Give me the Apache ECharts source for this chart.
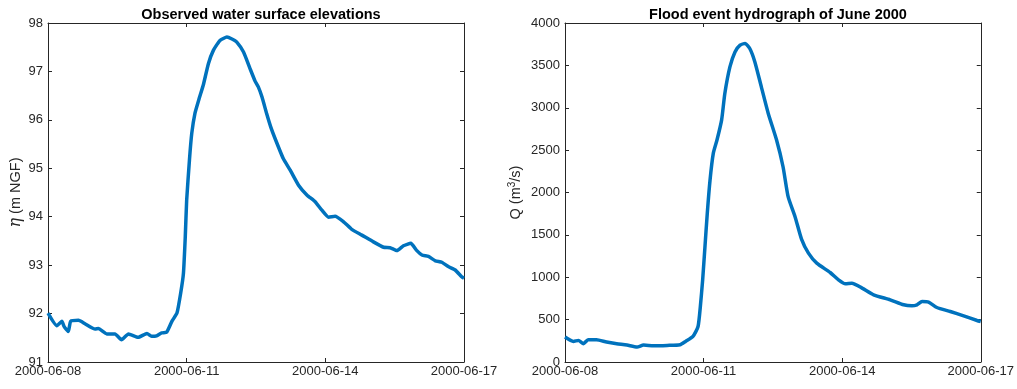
<!DOCTYPE html>
<html>
<head>
<meta charset="utf-8">
<script src="https://cdn.jsdelivr.net/npm/echarts@6/dist/echarts.min.js"></script>
<style>
  html, body { margin: 0; padding: 0; background: #fff; }
  #chart { width: 1017px; height: 389px; }
</style>
</head>
<body>
<div id="chart"></div>
<script>
// start date of both x axes, x values are days after it
var startDate = Date.UTC(2000, 5, 8);

// observed water surface elevation (m NGF)
var etaDays = [0, 0.19, 0.30, 0.35, 0.44, 0.49, 0.66, 0.80, 1.02, 1.09, 1.27, 1.45, 1.59, 1.74, 1.95, 2.14, 2.24, 2.35, 2.46, 2.57,
    2.68, 2.79, 2.87, 2.93, 2.97, 3.00, 3.06, 3.11, 3.18, 3.27, 3.36, 3.47, 3.58, 3.72, 3.87, 3.98, 4.08, 4.23, 4.37, 4.48,
    4.55, 4.63, 4.73, 4.82, 4.91, 5.09, 5.24, 5.42, 5.60, 5.78, 5.92, 6.07, 6.21, 6.39, 6.57, 6.79, 7.04, 7.26, 7.40, 7.55,
    7.69, 7.85, 7.98, 8.09, 8.23, 8.38, 8.52, 8.66, 8.81, 8.95, 9.00];
var etaValues = [92.01, 91.75, 91.84, 91.73, 91.63, 91.84, 91.86, 91.79, 91.68, 91.69, 91.58, 91.58, 91.46, 91.58, 91.51, 91.59, 91.53, 91.54, 91.60, 91.62,
    91.84, 92.01, 92.42, 92.83, 93.59, 94.34, 95.17, 95.72, 96.14, 96.44, 96.72, 97.16, 97.44, 97.64, 97.71, 97.67, 97.61, 97.40, 97.06, 96.80,
    96.68, 96.47, 96.13, 95.85, 95.62, 95.20, 94.96, 94.65, 94.45, 94.31, 94.14, 93.99, 94.01, 93.90, 93.74, 93.62, 93.48, 93.37, 93.36, 93.30,
    93.40, 93.45, 93.30, 93.21, 93.18, 93.09, 93.06, 92.97, 92.90, 92.76, 92.73];

// flood hydrograph (m3/s)
var flowDays = [0, 0.18, 0.29, 0.40, 0.50, 0.68, 0.90, 1.12, 1.34, 1.56, 1.70, 1.92, 2.21, 2.49, 2.61, 2.77, 2.88, 2.93, 2.98, 3.03,
    3.08, 3.14, 3.21, 3.29, 3.39, 3.46, 3.57, 3.68, 3.79, 3.90, 4.00, 4.11, 4.25, 4.40, 4.58, 4.72, 4.83, 4.98, 5.12, 5.27,
    5.45, 5.74, 5.92, 6.07, 6.21, 6.43, 6.68, 7.04, 7.33, 7.51, 7.62, 7.73, 7.87, 8.05, 8.34, 8.63, 8.92, 9.00];
var flowValues = [294, 243, 255, 216, 263, 263, 236, 216, 200, 177, 200, 192, 196, 204, 243, 302, 419, 655, 970, 1362,
    1755, 2148, 2462, 2619, 2854, 3169, 3482, 3659, 3738, 3758, 3699, 3541, 3247, 2933, 2619, 2304, 1951, 1715, 1450, 1284,
    1166, 1056, 970, 922, 930, 872, 793, 734, 675, 663, 675, 714, 707, 643, 596, 545, 490, 478];

var titles = ['Observed water surface elevations', 'Flood event hydrograph of June 2000'];

var fontName = '"Liberation Sans", Arial, Helvetica, sans-serif';
var axisColor = '#262626';
var lineColor = '#0072bd';

function pairs(xs, ys) {
    var out = [];
    for (var i = 0; i < xs.length; i++) {
        out.push([xs[i], ys[i]]);
    }
    return out;
}

//日期标签
function dayLabel(v) {
    var d = new Date(startDate + v * 86400000);
    var m = d.getUTCMonth() + 1, dd = d.getUTCDate();
    return d.getUTCFullYear() + '-' + (m < 10 ? '0' + m : m) + '-' + (dd < 10 ? '0' + dd : dd);
}

function xAx(gridIndex, pos) {
    return {
        type: 'value', gridIndex: gridIndex, position: pos,
        min: 0, max: 9, interval: 3,
        axisLine: { show: true, onZero: false, lineStyle: { color: axisColor, width: 1 } },
        axisTick: { show: true, inside: true, length: 4, lineStyle: { color: axisColor } },
        axisLabel: {
            show: pos === 'bottom', margin: 3, color: axisColor, fontSize: 13, fontFamily: fontName,
            formatter: dayLabel
        },
        splitLine: { show: false }
    };
}

function yAx(gridIndex, pos, min, max, interval, name) {
    return {
        type: 'value', gridIndex: gridIndex, position: pos,
        min: min, max: max, interval: interval,
        name: pos === 'left' ? name : '',
        nameLocation: 'middle',
        nameGap: gridIndex === 0 ? 24 : 41,
        nameTextStyle: {
            color: axisColor, fontSize: 14.5, fontFamily: fontName,
            rich: {
                i: { fontStyle: 'italic', fontSize: 16, fontFamily: '"DejaVu Serif", serif', color: axisColor },
                sup: { fontSize: 10, verticalAlign: 'top', padding: [0, 0, 7, 0], color: axisColor }
            }
        },
        axisLine: { show: true, onZero: false, lineStyle: { color: axisColor, width: 1 } },
        axisTick: { show: true, inside: true, length: 4, lineStyle: { color: axisColor } },
        axisLabel: {
            show: pos === 'left', margin: 5, color: axisColor, fontSize: 13, fontFamily: fontName,
            formatter: function (v) { return String(v); }
        },
        splitLine: { show: false }
    };
}

var myChart = echarts.init(document.getElementById('chart'), null, { renderer: 'canvas' });
myChart.setOption({
    animation: false,
    backgroundColor: '#fff',
    title: [
        { text: titles[0], left: 256, top: 2, textAlign: 'center',
          textStyle: { fontSize: 14.5, fontWeight: 'bold', color: '#000', fontFamily: fontName } },
        { text: titles[1], left: 773, top: 2, textAlign: 'center',
          textStyle: { fontSize: 14.5, fontWeight: 'bold', color: '#000', fontFamily: fontName } }
    ],
    grid: [
        { left: 48, top: 23, width: 416, height: 339 },
        { left: 565, top: 23, width: 416, height: 339 }
    ],
    xAxis: [xAx(0, 'bottom'), xAx(0, 'top'), xAx(1, 'bottom'), xAx(1, 'top')],
    yAxis: [
        yAx(0, 'left', 91, 98, 1, '{i|η} (m NGF)'),
        yAx(0, 'right', 91, 98, 1, ''),
        yAx(1, 'left', 0, 4000, 500, 'Q (m{sup|3}/s)'),
        yAx(1, 'right', 0, 4000, 500, '')
    ],
    series: [
        {
            type: 'line', xAxisIndex: 0, yAxisIndex: 0,
            data: pairs(etaDays, etaValues),
            showSymbol: false, smooth: 0.15,
            lineStyle: { color: lineColor, width: 3.5 }
        },
        {
            type: 'line', xAxisIndex: 2, yAxisIndex: 2,
            data: pairs(flowDays, flowValues),
            showSymbol: false, smooth: 0.2,
            lineStyle: { color: lineColor, width: 3.5 }
        }
    ]
});
</script>
</body>
</html>
